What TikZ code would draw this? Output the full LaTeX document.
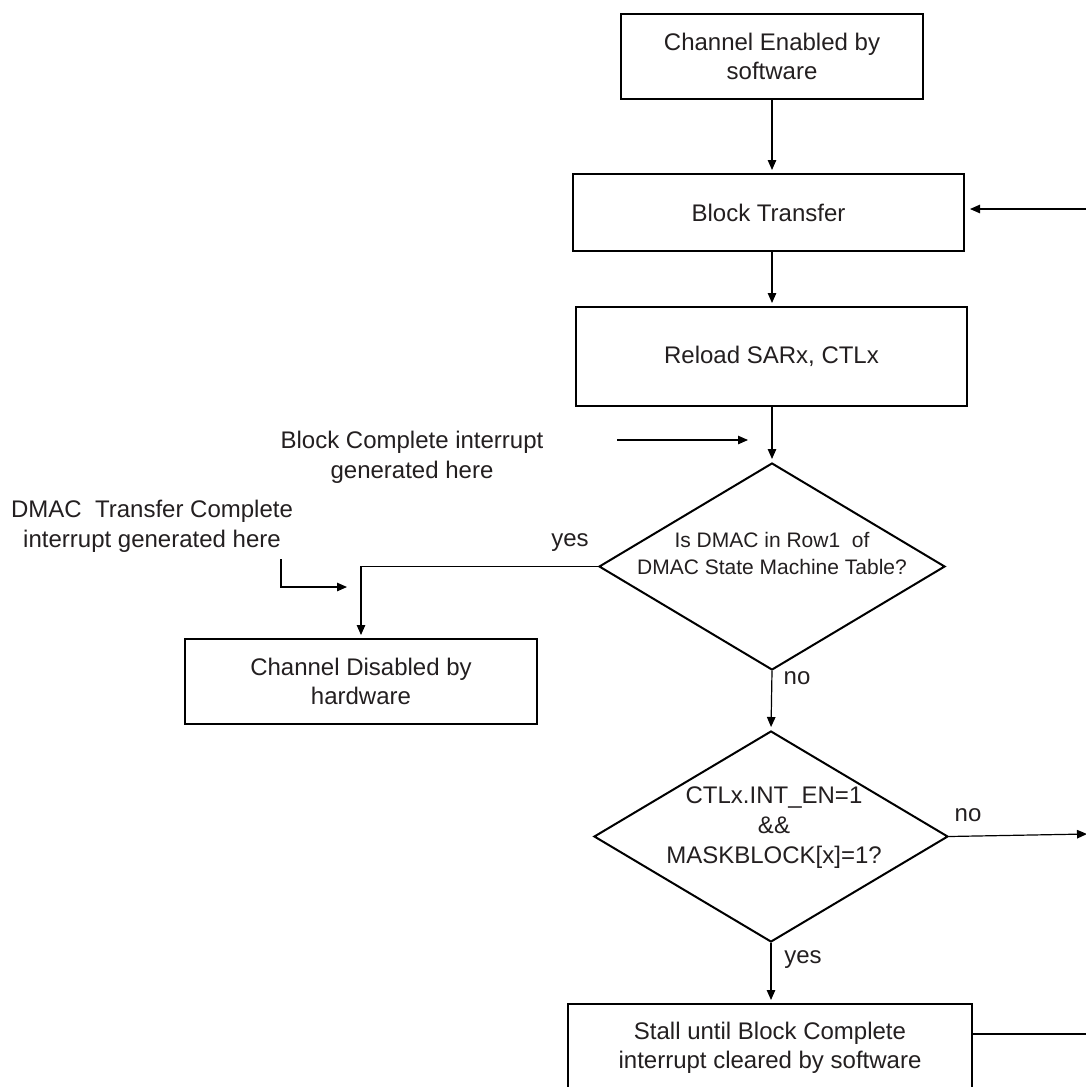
\documentclass[tikz,border=0pt]{standalone}
\usepackage{fontspec}
\setmainfont{Liberation Sans}
\usetikzlibrary{arrows.meta,shapes.geometric,calc}
\definecolor{txt}{HTML}{231F20}
\begin{document}
\begin{tikzpicture}[x=1pt,y=-1pt,
  box/.style={draw=black, line width=2pt, inner sep=0pt, align=center,
    font=\fontsize{24}{29}\selectfont, text=txt},
  dia/.style={draw=black, line width=2pt, diamond, inner sep=0pt},
  dtext/.style={align=center, inner sep=0pt, text=txt},
  lbl/.style={font=\fontsize{24}{30}\selectfont, align=center, inner sep=0pt, text=txt},
  line/.style={line width=1.2pt, draw=black},
  conn/.style={line, -{Triangle[length=10pt,width=8.5pt]}, shorten >=3pt},
]
\useasboundingbox (0,0) rectangle (1085,1087);
\fill[white] (0,0) rectangle (1085,1087);

% boxes
\node[box, minimum width=302pt, minimum height=85pt] (top) at (772,56.5) {Channel Enabled by\\software};
\node[box, minimum width=391pt, minimum height=77pt] (bt) at (768.5,212.5) {Block Transfer};
\node[box, minimum width=391pt, minimum height=99pt] (rl) at (771.5,356.5) {Reload SARx, CTLx};
\node[box, minimum width=352pt, minimum height=85pt] (cd) at (361,681.5) {Channel Disabled by\\hardware};
\node[box, minimum width=404pt, minimum height=88pt] (st) at (770,1048) {Stall until Block Complete\\interrupt cleared by software};

% diamonds
\node[dia, minimum width=346pt, minimum height=207pt] (d1) at (772,566.5) {};
\node[dtext, font=\fontsize{21}{27}\selectfont] (d1t) at (772,553) {Is DMAC in Row1\ \ of\\DMAC State Machine Table?};
\node[dia, minimum width=354pt, minimum height=211pt] (d2) at (771,836.5) {};
\node[dtext, font=\fontsize{24}{30}\selectfont] (d2t) at (774,828) {CTLx.INT\_EN=1\\\&\&\\MASKBLOCK[x]=1?};

% free labels
\node[lbl] (bcl) at (412,457) {Block Complete interrupt\\generated here};
\node[lbl] (dml) at (152,526) {DMAC\ \ Transfer Complete\\interrupt generated here};
\node[lbl] (yes1) at (570,543) {yes};
\node[lbl] (no1) at (797,678) {no};
\node[lbl] (no2) at (968,815) {no};
\node[lbl] (yes2) at (803,960) {yes};

% free ends
\coordinate (bin) at (1086,209);
\coordinate (nout) at (1087,834);
\coordinate (sout1) at (972,1034);
\coordinate (sout2) at (1086,1034);
\coordinate (bc1) at (617,440);
\coordinate (bc2) at (751,440);
\coordinate (dm1) at (281,559);
\coordinate (dm2) at (281,587);
\coordinate (dm3) at (350,587);

% connectors
\draw[conn] (top.south) -- (top.south |- bt.north);
\draw[conn] (bt.south -| top.south) -- (top.south |- rl.north);
\draw[conn] (rl.south -| d1.north) -- (d1.north);
\draw[conn] (d1.south) -- (d2.north);
\draw[conn] (d1.west) -- (d1.west -| cd.north) -- (cd.north);
\draw[conn, shorten >=0pt] (d2.east) -- (nout);
\draw[conn] (d2.south) -- (d2.south |- st.north);
\draw[line] (sout1) -- (sout2);
\draw[conn, shorten >=5pt] (bin) -- (bin -| bt.east);
\draw[conn] (bc1) -- (bc2);
\draw[conn] (dm1) -- (dm2) -- (dm3);
\end{tikzpicture}
\end{document}
